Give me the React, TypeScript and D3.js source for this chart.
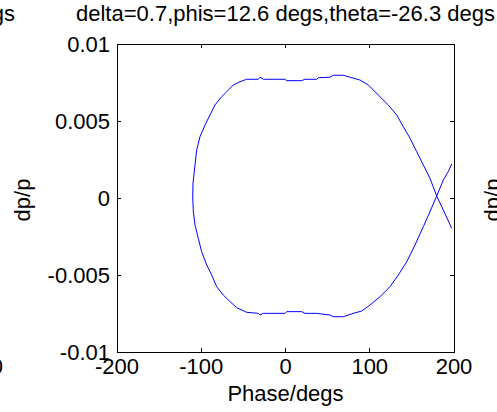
import React from "react";
import * as d3 from "d3";

const phase: number[] = [
  197.3, 193.2, 187.3, 179.5, 171.5, 163.6, 153.7, 143.9, 133.9, 124.0, 112.2, 100.3, 90.4, 80.5, 68.6,
  56.7, 52.8, 37.0, 23.1, 19.2, 1.4, -0.6, -26.3, -30.3, -32.3, -46.1, -57.9, -65.9, -73.8, -81.7,
  -87.6, -93.5, -99.5, -103.5, -107.4, -109.4, -110.1, -109.8, -107.4, -105.4, -101.5, -95.5, -89.6, -83.7, -75.7,
  -69.8, -62.0, -54.0, -46.1, -32.3, -30.3, -26.3, -0.6, 1.4, 19.2, 23.1, 37.0, 38.9, 52.8, 56.7,
  68.6, 76.6, 88.4, 98.3, 110.1, 122.0, 132.0, 139.8, 147.8, 155.7, 163.6, 171.5, 179.5, 187.3, 197.3,
];
const dpp: number[] = [
  0.00221, 0.00171, 0.00117, 0.00013, -0.00089, -0.00186, -0.00305, -0.00414, -0.005, -0.00576, -0.00641, -0.00695, -0.00734, -0.00749, -0.00771,
  -0.00771, -0.0076, -0.00749, -0.00749, -0.00738, -0.00738, -0.00749, -0.00749, -0.0076, -0.00749, -0.00742, -0.00712, -0.00673, -0.0063, -0.00576,
  -0.005, -0.00435, -0.00349, -0.00262, -0.00175, -0.00089, 0, 0.00097, 0.00214, 0.00312, 0.00398, 0.00474, 0.00539, 0.00604, 0.00658,
  0.0069, 0.00734, 0.00755, 0.00771, 0.00771, 0.00784, 0.00771, 0.00771, 0.00762, 0.00762, 0.00771, 0.00771, 0.00781, 0.00784, 0.00797,
  0.00797, 0.00784, 0.00766, 0.00734, 0.00669, 0.00604, 0.00539, 0.00463, 0.00388, 0.00301, 0.00214, 0.00128, 0.00013, -0.00078, -0.00197,
];

const xTicks: number[] = [-200, -100, 0, 100, 200];
const xTickLabels: string[] = ["-200", "-100", "0", "100", "200"];
const yTicks: number[] = [-0.01, -0.005, 0, 0.005, 0.01];
const yTickLabels: string[] = ["-0.01", "-0.005", "0", "0.005", "0.01"];

const title = "delta=0.7,phis=12.6 degs,theta=-26.3 degs";
const xLabel = "Phase/degs";
const yLabel = "dp/p";

const W = 497;
const H = 412;
const L = 117;
const R = 454;
const T = 44;
const B = 352;
const FONT = "'Liberation Sans', Arial, Helvetica, sans-serif";
const FS = 22;
const TL = 4;

export default function App() {
  const x = d3.scaleLinear().domain([-200, 200]).range([L, R]);
  const y = d3.scaleLinear().domain([-0.01, 0.01]).range([B, T]);
  const pts: [number, number][] = phase.map((p, i) => [p, dpp[i]]);
  const line = d3
    .line<[number, number]>()
    .x((d) => x(d[0]))
    .y((d) => y(d[1]));

  return (
    <svg
      width={W}
      height={H}
      style={{ position: "absolute", left: 0, top: 0, background: "#fff" }}
      fontFamily={FONT}
      fontSize={FS}
    >
      <rect x={0} y={0} width={W} height={H} fill="#fff" />
      {/* neighbouring subplot fragments */}
      <text x={15} y={21} textAnchor="end" fill="#000">degs</text>
      <text x={3} y={374} textAnchor="end" fill="#000">200</text>
      <text transform={`translate(500,200) rotate(-90)`} textAnchor="middle" fill="#000">{yLabel}</text>

      {/* title */}
      <text x={(L + R) / 2} y={21} textAnchor="middle" fill="#000">{title}</text>

      {/* curve */}
      <path d={line(pts) || ""} fill="none" stroke="#0000ff" strokeWidth={1} />

      {/* box */}
      <rect x={L} y={T} width={R - L} height={B - T} fill="none" stroke="#000" strokeWidth={1} shapeRendering="crispEdges" />

      {/* x ticks */}
      {xTicks.map((t, i) => (
        <g key={"x" + i}>
          <line x1={x(t)} x2={x(t)} y1={B} y2={B - TL} stroke="#000" shapeRendering="crispEdges" />
          <line x1={x(t)} x2={x(t)} y1={T} y2={T + TL} stroke="#000" shapeRendering="crispEdges" />
          <text x={x(t)} y={B + 22} textAnchor="middle" fill="#000">{xTickLabels[i]}</text>
        </g>
      ))}
      {/* y ticks */}
      {yTicks.map((t, i) => (
        <g key={"y" + i}>
          <line x1={L} x2={L + TL} y1={y(t)} y2={y(t)} stroke="#000" shapeRendering="crispEdges" />
          <line x1={R} x2={R - TL} y1={y(t)} y2={y(t)} stroke="#000" shapeRendering="crispEdges" />
          <text x={L - 7} y={y(t)} dy="0.36em" textAnchor="end" fill="#000">{yTickLabels[i]}</text>
        </g>
      ))}

      {/* axis labels */}
      <text x={(L + R) / 2} y={401} textAnchor="middle" fill="#000">{xLabel}</text>
      <text transform={`translate(30,200) rotate(-90)`} textAnchor="middle" fill="#000">{yLabel}</text>
    </svg>
  );
}
